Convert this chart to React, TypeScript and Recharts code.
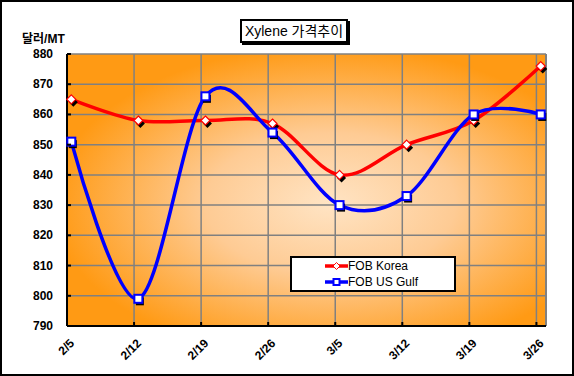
import { LineChart, Line, XAxis, YAxis, CartesianGrid, Legend, ReferenceLine } from 'recharts'

const categories = ['2/5', '2/12', '2/19', '2/26', '3/5', '3/12', '3/19', '3/26']
const fobKorea = [865, 858, 858, 857, 840, 850, 858, 876]
const fobUsGulf = [851, 799, 866, 854, 830, 833, 860, 860]
const yTicks = [790, 800, 810, 820, 830, 840, 850, 860, 870, 880]

const FONT = '"Liberation Sans", Arial, "Noto Sans CJK KR", sans-serif'
const DAYS_PER_WEEK = 7
const POINT_SHIFT = 0.45 // Excel puts the points a little right of the weekly gridlines
const X_END = 50
const Y_TICK_GAP = 14

const data = categories.map((label, i) => ({
  label,
  day: i * DAYS_PER_WEEK + POINT_SHIFT,
  korea: fobKorea[i],
  gulf: fobUsGulf[i],
}))
const xTicks = categories.map((_, i) => i * DAYS_PER_WEEK)

// Excel's "smoothed line" ~ Catmull-Rom (cardinal, tension 0)
function excelSmooth(context: any) {
  const k = 1 / 6
  let x0 = NaN, x1 = NaN, x2 = NaN, y0 = NaN, y1 = NaN, y2 = NaN
  let pt = 0
  let line = NaN
  const seg = (x: number, y: number) => {
    context.bezierCurveTo(x1 + k * (x2 - x0), y1 + k * (y2 - y0), x2 + k * (x1 - x), y2 + k * (y1 - y), x2, y2)
  }
  return {
    areaStart() { line = 0 },
    areaEnd() { line = NaN },
    lineStart() {
      x0 = x1 = x2 = y0 = y1 = y2 = NaN
      pt = 0
    },
    lineEnd() {
      if (pt === 2) context.lineTo(x2, y2)
      else if (pt === 3) seg(x1, y1)
      if (line || (line !== 0 && pt === 1)) context.closePath()
      line = 1 - line
    },
    point(x: number, y: number) {
      x = +x
      y = +y
      if (pt === 0) {
        pt = 1
        line ? context.lineTo(x, y) : context.moveTo(x, y)
      } else if (pt === 1) {
        pt = 2
        x1 = x
        y1 = y
      } else {
        if (pt === 2) pt = 3
        seg(x, y)
      }
      x0 = x1; x1 = x2; x2 = x
      y0 = y1; y1 = y2; y2 = y
    },
  }
}

const diamond = (cx: number, cy: number, r: number) =>
  `M${cx},${cy - r} L${cx + r},${cy} L${cx},${cy + r} L${cx - r},${cy} Z`

const KoreaDot = (props: any) => {
  const { cx, cy, index } = props
  if (cx == null || cy == null) return null
  return (
    <g key={`k-${index}`}>
      <path d={diamond(cx + 2, cy + 3, 4.5)} fill="#000" />
      <path d={diamond(cx, cy, 4.5)} fill="#fff" stroke="#FF0000" strokeWidth={1.2} />
    </g>
  )
}

const GulfDot = (props: any) => {
  const { cx, cy, index } = props
  if (cx == null || cy == null) return null
  return (
    <g key={`g-${index}`}>
      <rect x={cx - 2.5} y={cy - 1.5} width={8} height={8} fill="#000" />
      <rect x={cx - 4} y={cy - 4} width={8} height={8} fill="#fff" stroke="#0000FF" strokeWidth={2} />
    </g>
  )
}

const XTick = (props: any) => {
  const { x, y, index } = props
  const tx = x + 8
  const ty = y + 18
  return (
    <g>
      <line x1={x} y1={y} x2={x} y2={y - 4} stroke="#000" strokeWidth={2} />
      <text x={tx} y={ty} textAnchor="end" transform={`rotate(-45 ${tx} ${ty})`}
        fontFamily={FONT} fontSize={12} fontWeight="bold" fill="#000">
        {categories[index]}
      </text>
    </g>
  )
}

const YTick = (props: any) => {
  const { x, y, payload } = props
  const ax = x + Y_TICK_GAP
  return (
    <g>
      <line x1={ax} y1={y} x2={ax + 4} y2={y} stroke="#000" strokeWidth={2} />
      <text x={x} y={y + 4} textAnchor="end" fontFamily={FONT} fontSize={12} fontWeight="bold" fill="#000">
        {payload.value}
      </text>
    </g>
  )
}

const renderLegend = (props: any) => {
  const { payload = [] } = props
  return (
    <div style={{
      boxSizing: 'border-box', width: 166, height: 36, border: '2px solid #000', background: '#fff',
      display: 'flex', flexDirection: 'column', justifyContent: 'center', fontFamily: FONT, fontSize: 12, color: '#000',
    }}>
      {payload.map((entry: any) => (
        <div key={entry.value} style={{ display: 'flex', alignItems: 'center', height: 17, paddingLeft: 33 }}>
          <svg width={23} height={12} style={{ display: 'block' }}>
            <line x1={0} y1={6} x2={23} y2={6} stroke={entry.color} strokeWidth={3.5} />
            {entry.dataKey === 'korea'
              ? <path d={diamond(11.5, 6, 3.5)} fill="#fff" stroke="#FF0000" strokeWidth={1} />
              : <rect x={8.5} y={3} width={6} height={6} fill="#fff" stroke="#0000FF" strokeWidth={2} />}
          </svg>
          <span>{entry.value}</span>
        </div>
      ))}
    </div>
  )
}

export default function App() {
  return (
    <div style={{ position: 'relative', width: 574, height: 376, background: '#fff' }}>
      <style>{'body{margin:0}'}</style>
      <LineChart width={574} height={376} data={data} margin={{ top: 54, right: 28, bottom: 0, left: 0 }}>
        <defs>
          <radialGradient id="plotBg" cx="0.55" cy="0.55" r="0.58">
            <stop offset="0" stopColor="#FFE4C4" />
            <stop offset="0.45" stopColor="#FECB94" />
            <stop offset="1" stopColor="#FF9A14" />
          </radialGradient>
        </defs>
        <CartesianGrid stroke="#808080" strokeWidth={1.5} fill="url(#plotBg)" fillOpacity={1} />
        <ReferenceLine x={X_END} stroke="#808080" strokeWidth={2} />
        <XAxis dataKey="day" type="number" domain={[0, X_END]} ticks={xTicks} interval={0} height={50}
          axisLine={{ stroke: '#000', strokeWidth: 2 }} tickLine={false} tickSize={0} tickMargin={0} tick={<XTick />} />
        <YAxis type="number" domain={[790, 880]} ticks={yTicks} interval={0} width={67}
          axisLine={{ stroke: '#000', strokeWidth: 2 }} tickLine={false} tickSize={0} tickMargin={Y_TICK_GAP} tick={<YTick />} />
        <Line dataKey="korea" name="FOB Korea" stroke="#FF0000" strokeWidth={3.5} type={excelSmooth as any}
          dot={KoreaDot} activeDot={false} isAnimationActive={false} />
        <Line dataKey="gulf" name="FOB US Gulf" stroke="#0000FF" strokeWidth={3.5} type={excelSmooth as any}
          dot={GulfDot} activeDot={false} isAnimationActive={false} />
        <Legend layout="horizontal" verticalAlign="middle" align="center"
          wrapperStyle={{ left: 290, top: 256, width: 166, height: 36 }} content={renderLegend} />
      </LineChart>
      <div style={{
        position: 'absolute', left: 240, top: 19, width: 108, height: 24, boxSizing: 'border-box',
        border: '2px solid #000', boxShadow: '2px 2px 0 #000', background: '#fff',
        fontFamily: FONT, fontSize: 14, lineHeight: '20px', textAlign: 'center', color: '#000', whiteSpace: 'nowrap',
      }}>
        Xylene 가격추이
      </div>
      <div style={{
        position: 'absolute', left: 22, top: 29, fontFamily: FONT, fontSize: 12, fontWeight: 'bold', color: '#000',
      }}>
        달러/MT
      </div>
      <div style={{
        position: 'absolute', left: 0, top: 0, width: 574, height: 376, boxSizing: 'border-box',
        border: '2px solid #000', pointerEvents: 'none',
      }} />
    </div>
  )
}
